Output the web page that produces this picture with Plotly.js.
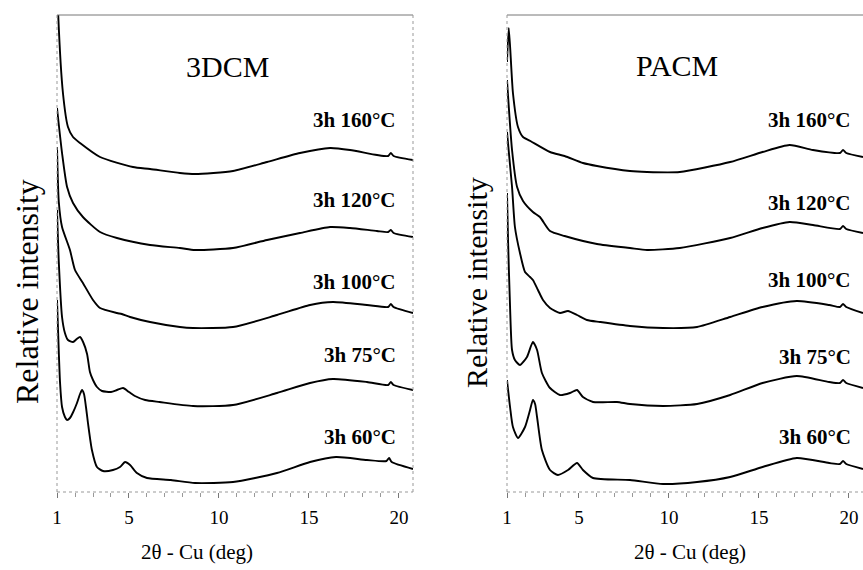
<!DOCTYPE html>
<html>
<head>
<meta charset="utf-8">
<script src="https://cdn.plot.ly/plotly-3.0.1.min.js"></script>
<style>html,body{margin:0;padding:0;background:#fff;}#chart{width:863px;height:570px;}</style>
</head>
<body>
<div id="chart"></div>
<script>
// ---- Data (2θ in degrees, relative intensity with stacking offset, arbitrary units) ----
const tickVals = [1, 5, 10, 15, 20];
const tickText = ["1", "5", "10", "15", "20"];
const panelTitles = ["3DCM", "PACM"];
const seriesLabels = ["3h 160°C", "3h 120°C", "3h 100°C", "3h 75°C", "3h 60°C"];
const xTitle = "2θ - Cu (deg)";
const yTitle = "Relative intensity";

// 3DCM panel
const dcm160_x = [1.0, 1.06, 1.33, 1.61, 1.89, 2.28, 3.39, 5.22, 6.17, 7.83, 8.67, 10.78, 12.67, 14.5, 16.17, 17.28, 18.78, 19.4, 19.55, 19.7, 20.78];
const dcm160_y = [520, 480, 399, 365, 355, 349, 335, 325, 323, 319, 318, 321, 330, 339, 344, 342, 337, 336, 339, 336, 332];
const dcm120_x = [1.0, 1.28, 1.56, 1.89, 2.44, 3.39, 4.33, 6.17, 7.83, 8.67, 10.78, 12.67, 14.5, 16.17, 17.28, 18.78, 19.4, 19.55, 19.7, 20.78];
const dcm120_y = [384, 339, 305, 289, 275, 260, 254, 247, 244, 242, 244, 252, 259, 265, 264, 261, 260, 262, 259, 255];
const dcm100_x = [1.0, 1.1, 1.28, 1.72, 2.0, 2.44, 3.0, 3.39, 4.33, 4.6, 5.06, 6.17, 7.83, 8.56, 10.78, 13.22, 15.06, 16.33, 18.22, 19.4, 19.55, 19.7, 20.78];
const dcm100_y = [345, 290, 265, 242, 222, 209, 192, 184, 179, 178, 175, 170, 165, 164, 165, 177, 187, 190, 187, 185, 188, 185, 179];
const dcm75_x = [1.0, 1.1, 1.28, 1.44, 1.61, 1.89, 2.1, 2.28, 2.45, 2.67, 2.83, 3.0, 3.22, 3.5, 4.0, 4.33, 4.67, 5.0, 5.33, 5.9, 6.7, 8.56, 10.78, 13.22, 15.06, 16.33, 18.22, 19.4, 19.55, 19.7, 20.78];
const dcm75_y = [282, 230, 175, 159, 152, 150, 153, 155, 150, 138, 120, 112, 105, 101, 100, 102, 104, 100, 96, 92, 90, 86, 87, 99, 109, 113, 110, 107, 110, 107, 102];
const dcm60_x = [1.0, 1.1, 1.17, 1.28, 1.44, 1.56, 1.72, 1.9, 2.11, 2.28, 2.39, 2.5, 2.61, 2.72, 2.94, 3.22, 3.56, 4.11, 4.5, 4.78, 5.06, 5.44, 6.0, 7.33, 8.67, 10.78, 13.22, 15.06, 16.5, 18.22, 19.3, 19.45, 19.6, 20.78];
const dcm60_y = [192, 140, 109, 85, 75, 72, 74, 80, 89, 98, 102, 98, 85, 69, 42, 25, 21, 22, 25, 30, 27, 19, 14, 12, 9, 10, 19, 30, 35, 32, 31, 34, 30, 23];

// PACM panel
const pacm160_x = [1.0, 1.1, 1.33, 1.61, 1.89, 2.3, 3.39, 4.2, 5.22, 6.0, 7.83, 8.78, 10.6, 13.4, 15.2, 16.7, 18.0, 19.5, 19.67, 19.85, 20.78];
const pacm160_y = [430, 464, 399, 365, 355, 351, 340, 336, 329, 326, 321, 320, 320, 330, 340, 347, 342, 339, 342, 339, 335];
const pacm120_x = [1.0, 1.28, 1.56, 1.89, 2.44, 2.83, 3.39, 4.2, 6.0, 7.83, 8.78, 10.6, 13.4, 15.2, 16.7, 18.0, 19.5, 19.67, 19.85, 20.78];
const pacm120_y = [412, 342, 305, 291, 280, 275, 261, 256, 248, 244, 242, 244, 254, 264, 270, 267, 263, 266, 263, 259];
const pacm100_x = [1.0, 1.28, 1.44, 1.72, 2.0, 2.28, 2.44, 2.72, 3.0, 3.39, 3.94, 4.39, 4.89, 5.44, 6.17, 7.83, 9.67, 11.56, 13.4, 15.2, 17.1, 18.9, 19.5, 19.67, 19.85, 20.78];
const pacm100_y = [360, 305, 265, 239, 220, 215, 212, 202, 192, 184, 179, 181, 177, 172, 170, 166, 164, 165, 175, 185, 191, 187, 185, 188, 185, 179];
const pacm75_x = [1.0, 1.06, 1.17, 1.28, 1.44, 1.72, 2.11, 2.44, 2.67, 2.94, 3.39, 3.94, 4.5, 4.89, 5.22, 5.78, 7.11, 7.83, 9.67, 11.56, 13.4, 15.2, 17.1, 18.9, 19.5, 19.67, 19.85, 20.78];
const pacm75_y = [299, 250, 185, 142, 132, 127, 135, 150, 142, 119, 104, 97, 99, 102, 95, 90, 90, 88, 86, 88, 97, 109, 116, 110, 109, 112, 109, 104];
const pacm60_x = [1.0, 1.17, 1.33, 1.61, 2.0, 2.28, 2.44, 2.56, 2.67, 2.94, 3.39, 3.83, 4.39, 4.89, 5.22, 5.78, 7.83, 9.67, 11.56, 13.4, 15.2, 17.1, 18.9, 19.5, 19.67, 19.85, 20.78];
const pacm60_y = [112, 85, 65, 54, 65, 82, 92, 88, 75, 42, 22, 17, 22, 29, 22, 14, 12, 8, 10, 15, 25, 34, 29, 28, 31, 28, 23];

// Label anchor positions (data units)
const labelY_dcm = [372, 292, 210, 137, 55];
const labelY_pacm = [372, 289, 212, 135, 55];

const dcmX = [dcm160_x, dcm120_x, dcm100_x, dcm75_x, dcm60_x];
const dcmY = [dcm160_y, dcm120_y, dcm100_y, dcm75_y, dcm60_y];
const pacmX = [pacm160_x, pacm120_x, pacm100_x, pacm75_x, pacm60_x];
const pacmY = [pacm160_y, pacm120_y, pacm100_y, pacm75_y, pacm60_y];

const W = 863;
const lineStyle = {color: '#000', width: 1.9, shape: 'spline', smoothing: 0.6};
const traces = [];
dcmX.forEach((xs, i) => traces.push({x: xs, y: dcmY[i], xaxis: 'x', yaxis: 'y', mode: 'lines', line: lineStyle, name: seriesLabels[i], showlegend: false, hoverinfo: 'skip'}));
pacmX.forEach((xs, i) => traces.push({x: xs, y: pacmY[i], xaxis: 'x2', yaxis: 'y2', mode: 'lines', line: lineStyle, name: seriesLabels[i], showlegend: false, hoverinfo: 'skip'}));

const serif = 'Liberation Serif';
function xax(domain, anchor) {
  return {
    domain: domain, anchor: anchor, range: [1, 20.78], fixedrange: true,
    tickmode: 'array', tickvals: tickVals, ticktext: tickText,
    ticks: 'outside', ticklen: 5, tickcolor: '#777', tickwidth: 1,
    ticklabelstandoff: 3,
    tickfont: {family: serif, size: 19, color: '#000'},
    showgrid: false, zeroline: false, showline: false,
    minor: {dtick: 1, tick0: 0, ticks: 'outside', ticklen: 4, tickcolor: '#999', showgrid: false}
  };
}
function yax(anchor) {
  return {domain: [0, 1], anchor: anchor, range: [0, 477], visible: false, fixedrange: true};
}

function frame(xr, yr, withRight) {
  const s = [
    {type: 'line', xref: xr + ' domain', yref: yr + ' domain', x0: 0, x1: 1, y0: 1, y1: 1, line: {color: '#777', width: 1}},
    {type: 'line', xref: xr + ' domain', yref: yr + ' domain', x0: 0, x1: 0, y0: 0, y1: 1, line: {color: '#999', width: 1, dash: 'dot'}},
    {type: 'line', xref: xr + ' domain', yref: yr + ' domain', x0: 0, x1: 1, y0: 0, y1: 0, line: {color: '#999', width: 1, dash: 'dot'}}
  ];
  if (withRight) s.push({type: 'line', xref: xr + ' domain', yref: yr + ' domain', x0: 1, x1: 1, y0: 0, y1: 1, line: {color: '#999', width: 1, dash: 'dot'}});
  return s;
}

function ann(o) { return Object.assign({showarrow: false, xanchor: 'center', yanchor: 'middle'}, o); }
const annotations = [];
// panel titles
annotations.push(ann({xref: 'x', yref: 'y', x: 10.5, y: 426, text: panelTitles[0], font: {family: serif, size: 30, color: '#000'}}));
annotations.push(ann({xref: 'x2', yref: 'y2', x: 10.44, y: 427, text: panelTitles[1], font: {family: serif, size: 30, color: '#000'}}));
// series labels
seriesLabels.forEach((t, i) => {
  annotations.push(ann({xref: 'x', yref: 'y', x: 19.94, y: labelY_dcm[i], xanchor: 'right', text: '<b>' + t + '</b>', font: {family: serif, size: 21, color: '#000'}}));
  annotations.push(ann({xref: 'x2', yref: 'y2', x: 20.22, y: labelY_pacm[i], xanchor: 'right', text: '<b>' + t + '</b>', font: {family: serif, size: 21, color: '#000'}}));
});
// axis titles
const H = 477;
annotations.push(ann({xref: 'paper', yref: 'paper', x: 197 / W, y: (492 - 552) / H, text: xTitle, font: {family: serif, size: 21, color: '#000'}}));
annotations.push(ann({xref: 'paper', yref: 'paper', x: 690 / W, y: (492 - 552) / H, text: xTitle, font: {family: serif, size: 21, color: '#000'}}));
annotations.push(ann({xref: 'paper', yref: 'paper', x: 27 / W, y: (492 - 292) / H, text: yTitle, textangle: -90, font: {family: serif, size: 32, color: '#000'}}));
annotations.push(ann({xref: 'paper', yref: 'paper', x: 476 / W, y: (492 - 283) / H, text: yTitle, textangle: -90, font: {family: serif, size: 30, color: '#000'}}));

const layout = {
  width: 863, height: 570,
  margin: {l: 0, r: 0, t: 15, b: 78, pad: 0},
  paper_bgcolor: '#fff', plot_bgcolor: '#fff',
  font: {family: serif, color: '#000'},
  showlegend: false,
  xaxis: xax([57 / W, 413 / W], 'y'),
  yaxis: yax('x'),
  xaxis2: xax([507 / W, 1], 'y2'),
  yaxis2: yax('x2'),
  shapes: frame('x', 'y', true).concat(frame('x2', 'y2', false)),
  annotations: annotations
};

Plotly.newPlot('chart', traces, layout, {staticPlot: true, displayModeBar: false});
</script>
</body>
</html>
